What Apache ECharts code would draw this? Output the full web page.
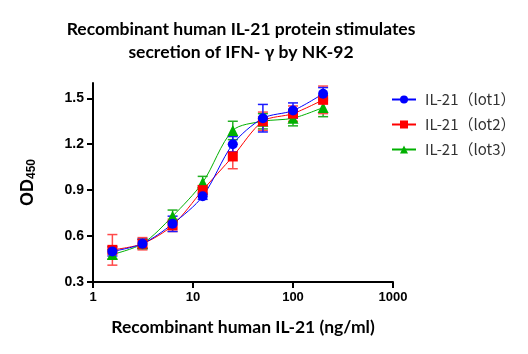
<!DOCTYPE html>
<html>
<head>
<meta charset="utf-8">
<script src="https://cdn.jsdelivr.net/npm/echarts@6/dist/echarts.min.js"></script>
<style>
  html, body { margin: 0; padding: 0; background: #fff; }
  #chart { width: 528px; height: 354px; }
</style>
</head>
<body>
<div id="chart"></div>
<script>
// concentrations (ng/ml), 2-fold dilution
var doses = [1.5625, 3.125, 6.25, 12.5, 25, 50, 100, 200];
// OD450 means
var lot1 = [0.50, 0.55, 0.68, 0.86, 1.20, 1.37, 1.42, 1.53];
var lot2 = [0.51, 0.55, 0.67, 0.90, 1.12, 1.35, 1.40, 1.49];
var lot3 = [0.48, 0.55, 0.73, 0.95, 1.29, 1.35, 1.37, 1.44];
// error bars (SD)
var lot1Err = [0.03, 0.03, 0.05, 0.02, 0.05, 0.09, 0.05, 0.04];
var lot2Err = [0.10, 0.04, 0.04, 0.03, 0.08, 0.06, 0.05, 0.09];
var lot3Err = [0.03, 0.03, 0.04, 0.04, 0.06, 0.05, 0.05, 0.06];
var yTicks = [0.3, 0.6, 0.9, 1.2, 1.5];

var labelFont = '"Liberation Sans", Arial, sans-serif';
var titleFont = 'Lato, "Open Sans", sans-serif';

function pts(vals) {
  return doses.map(function (d, i) { return [d, vals[i]]; });
}
function errPts(vals, err) {
  return doses.map(function (d, i) { return [d, vals[i] - err[i], vals[i] + err[i]]; });
}

function errBar(color) {
  return function (params, api) {
    var x = api.value(0);
    var top = api.coord([x, api.value(2)]);
    var bot = api.coord([x, api.value(1)]);
    var w = 5;
    var st = { stroke: color, lineWidth: 1.5 };
    return {
      type: 'group',
      children: [
        { type: 'line', shape: { x1: top[0], y1: top[1], x2: bot[0], y2: bot[1] }, style: st },
        { type: 'line', shape: { x1: top[0] - w, y1: top[1], x2: top[0] + w, y2: top[1] }, style: st },
        { type: 'line', shape: { x1: bot[0] - w, y1: bot[1], x2: bot[0] + w, y2: bot[1] }, style: st }
      ]
    };
  };
}

function lineSeries(name, vals, color, symbol, size) {
  return {
    name: name,
    type: 'line',
    data: pts(vals),
    smooth: 0.3,
    symbol: symbol,
    symbolSize: size,
    lineStyle: { color: color, width: 1 },
    itemStyle: { color: color },
    z: 3
  };
}
function errSeries(id, vals, err, color) {
  return {
    id: id,
    type: 'custom',
    data: errPts(vals, err),
    encode: { x: 0, y: [1, 2] },
    renderItem: errBar(color),
    z: 2
  };
}

var chart = echarts.init(document.getElementById('chart'));
chart.setOption({
  animation: false,
  title: {
    text: 'Recombinant human IL-21 protein stimulates\nsecretion of IFN- γ by NK-92',
    left: 236,
    textAlign: 'center',
    top: 13,
    textStyle: { fontFamily: titleFont, fontWeight: 'bold', fontSize: 17.5, color: '#000', lineHeight: 23 }
  },
  legend: {
    data: ['IL-21（lot1）', 'IL-21（lot2）', 'IL-21（lot3）'],
    orient: 'vertical',
    left: 386,
    top: 87,
    itemWidth: 24,
    itemHeight: 10,
    itemGap: 10,
    textStyle: { fontFamily: '"Noto Sans CJK SC", sans-serif', fontSize: 15, color: '#333', padding: [0, 0, 0, 4] }
  },
  grid: { left: 93, right: 135, top: 83, bottom: 72 },
  xAxis: {
    type: 'log',
    logBase: 10,
    min: 1,
    max: 1000,
    name: 'Recombinant human IL-21 (ng/ml)',
    nameLocation: 'middle',
    nameGap: 36,
    nameTextStyle: { fontFamily: titleFont, fontWeight: 'bold', fontSize: 17.5, color: '#000' },
    axisLine: { lineStyle: { color: '#000', width: 2 } },
    axisTick: { length: 6, lineStyle: { color: '#000', width: 2 } },
    minorTick: { show: false },
    splitLine: { show: false },
    axisLabel: {
      formatter: function (v) { return String(Math.round(v)); },
      fontFamily: labelFont, fontWeight: 'bold', fontSize: 13, color: '#000', margin: 9
    }
  },
  yAxis: {
    type: 'value',
    min: 0.3,
    max: 1.6,
    name: '{a|OD}{b|450}',
    nameLocation: 'middle',
    nameRotate: 90,
    nameGap: 55,
    nameTextStyle: {
      rich: {
        a: { fontFamily: labelFont, fontWeight: 'bold', fontSize: 18, color: '#000' },
        b: { fontFamily: labelFont, fontWeight: 'bold', fontSize: 12, color: '#000', verticalAlign: 'bottom', padding: [8, 0, 0, 0] }
      }
    },
    axisLine: { show: true, lineStyle: { color: '#000', width: 2 } },
    axisTick: { show: true, length: 6, customValues: yTicks, lineStyle: { color: '#000', width: 2 } },
    splitLine: { show: false },
    axisLabel: {
      customValues: yTicks,
      formatter: function (v) { return v.toFixed(1); },
      fontFamily: labelFont, fontWeight: 'bold', fontSize: 14, color: '#000', margin: 9
    }
  },
  series: [
    errSeries('err3', lot3, lot3Err, '#22b022'),
    errSeries('err2', lot2, lot2Err, '#ff4a4a'),
    errSeries('err1', lot1, lot1Err, '#1a1aff'),
    lineSeries('IL-21（lot3）', lot3, '#00b000', 'triangle', 11),
    lineSeries('IL-21（lot2）', lot2, '#ff0000', 'rect', 10),
    lineSeries('IL-21（lot1）', lot1, '#0000ff', 'circle', 10)
  ]
});
</script>
</body>
</html>
